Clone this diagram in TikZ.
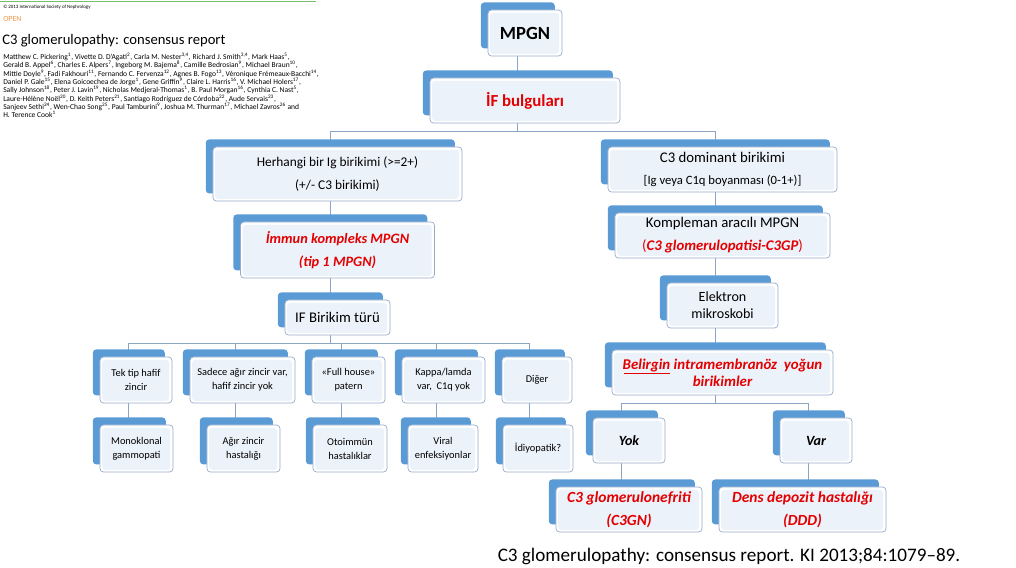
\documentclass[tikz,border=0pt]{standalone}
\usepackage{fontspec}
\setmainfont{Carlito}
\usetikzlibrary{backgrounds}

\definecolor{tabblue}{RGB}{91,155,213}
\definecolor{boxline}{RGB}{150,172,204}
\definecolor{boxfill}{RGB}{236,242,250}
\definecolor{linkcol}{RGB}{140,165,196}
\definecolor{txtred}{RGB}{228,0,0}
\definecolor{headgreen}{RGB}{120,190,110}
\definecolor{openorange}{RGB}{236,150,70}
\newcommand{\tabx}{-1.8mm}

\begin{document}
\begin{tikzpicture}[
  x=0.025cm, y=0.025cm,
  box/.style={rectangle, draw=boxline, line width=0.5pt, rounded corners=2.5pt, fill=white, align=center, inner sep=0pt, font=\fontsize{9.5}{16.5}\selectfont,
    preaction={fill=tabblue, transform canvas={shift={(-1.8mm,1.9mm)}}},
    path picture={\fill[boxfill] ([shift={(1.5pt,1.5pt)}]path picture bounding box.south west) rectangle ([shift={(-2pt,-2pt)}]path picture bounding box.north east);}},
  smallbox/.style={box, font=\fontsize{7.4}{10}\selectfont},
  redtxt/.style={text=txtred, font=\fontsize{10.5}{16.4}\selectfont\bfseries\itshape},
  conn/.style={draw=linkcol, line width=0.6pt}
]
\useasboundingbox (0,0) rectangle (1016,567);

% paper header
\draw[headgreen, line width=0.6pt] (0,566) -- (316,566);
\node[anchor=west, inner sep=0pt, font=\fontsize{3.5}{4}\selectfont] (society) at (3,560) {© 2013 International Society of Nephrology};
\node[anchor=west, inner sep=0pt, text=openorange, font=\fontsize{5.6}{6}\selectfont] (open) at (3,548) {OPEN};
\node[anchor=west, inner sep=0pt, font=\fontsize{10.4}{12}\selectfont] (title) at (2,526) {C3 glomerulopathy: consensus report};
\node[anchor=north west, align=left, inner sep=0pt, font=\fontsize{5.35}{5.9}\selectfont] (authors) at (3,514) {%
Matthew C. Pickering\textsuperscript{1}, Vivette D. D'Agati\textsuperscript{2}, Carla M. Nester\textsuperscript{3,4}, Richard J. Smith\textsuperscript{3,4}, Mark Haas\textsuperscript{5},\\
Gerald B. Appel\textsuperscript{6}, Charles E. Alpers\textsuperscript{7}, Ingeborg M. Bajema\textsuperscript{8}, Camille Bedrosian\textsuperscript{9}, Michael Braun\textsuperscript{10},\\
Mittie Doyle\textsuperscript{9}, Fadi Fakhouri\textsuperscript{11}, Fernando C. Fervenza\textsuperscript{12}, Agnes B. Fogo\textsuperscript{13}, Véronique Frémeaux-Bacchi\textsuperscript{14},\\
Daniel P. Gale\textsuperscript{15}, Elena Goicoechea de Jorge\textsuperscript{1}, Gene Griffin\textsuperscript{9}, Claire L. Harris\textsuperscript{16}, V. Michael Holers\textsuperscript{17},\\
Sally Johnson\textsuperscript{18}, Peter J. Lavin\textsuperscript{19}, Nicholas Medjeral-Thomas\textsuperscript{1}, B. Paul Morgan\textsuperscript{16}, Cynthia C. Nast\textsuperscript{5},\\
Laure-Hélène Noël\textsuperscript{20}, D. Keith Peters\textsuperscript{21}, Santiago Rodríguez de Córdoba\textsuperscript{22}, Aude Servais\textsuperscript{23},\\
Sanjeev Sethi\textsuperscript{24}, Wen-Chao Song\textsuperscript{25}, Paul Tamburini\textsuperscript{9}, Joshua M. Thurman\textsuperscript{17}, Michael Zavros\textsuperscript{26} and\\
H. Terence Cook\textsuperscript{1}};

% tree
\node[box, minimum width=1.85cm, minimum height=1.15cm, font=\fontsize{13.2}{16}\selectfont\bfseries] (mpgn) at (525,534) {MPGN};
\node[box, minimum width=4.75cm, minimum height=1.125cm, text=txtred, font=\fontsize{12}{14}\selectfont\bfseries] (ifb) at (525,466.5) {İF bulguları};

% left branch
\node[box, minimum width=6.225cm, minimum height=1.35cm] (herh) at (337.5,393) {Herhangi bir Ig birikimi (>=2+)\\(+/- C3 birikimi)};
\node[box, redtxt, minimum width=4.85cm, minimum height=1.4cm, font=\fontsize{10.2}{16.4}\selectfont\bfseries\itshape] (immun) at (337.5,317) {İmmun kompleks MPGN\\(tip 1 MPGN)};
\node[box, minimum width=2.625cm, minimum height=0.875cm, font=\fontsize{10.5}{12}\selectfont] (ifbt) at (337.5,249.5) {IF Birikim türü};

\node[smallbox, minimum width=1.8cm, minimum height=1.15cm] (tek) at (136,187) {Tek tip hafif\\zincir};
\node[smallbox, minimum width=2.625cm, minimum height=1.15cm] (sadece) at (242.5,187) {Sadece ağır zincir var,\\hafif zincir yok};
\node[smallbox, minimum width=1.825cm, minimum height=1.15cm] (full) at (348.5,187) {«Full house»\\patern};
\node[smallbox, minimum width=2.075cm, minimum height=1.15cm] (kappa) at (443.5,187) {Kappa/lamda\\var,\ \ C1q yok};
\node[smallbox, minimum width=1.75cm, minimum height=1.15cm] (diger) at (537,187) {Diğer};

\node[smallbox, minimum width=1.825cm, minimum height=1.175cm] (mono) at (136.5,118.5) {Monoklonal\\gammopati};
\node[smallbox, minimum width=1.825cm, minimum height=1.175cm] (agir) at (243.5,118.5) {Ağır zincir\\hastalığı};
\node[smallbox, minimum width=1.85cm, minimum height=1.175cm] (oto) at (350,118.5) {Otoimmün\\hastalıklar};
\node[smallbox, minimum width=1.75cm, minimum height=1.175cm] (viral) at (443,118.5) {Viral\\enfeksiyonlar};
\node[smallbox, minimum width=1.75cm, minimum height=1.175cm] (idio) at (538,118.5) {İdiyopatik?};

% right branch
\node[box, minimum width=5.725cm, minimum height=1.125cm, font=\fontsize{10.5}{15.5}\selectfont] (c3dom) at (722.5,397.5) {C3 dominant birikimi\\{\fontsize{9}{9}\selectfont [Ig veya C1q boyanması (0-1+)]}};
\node[box, minimum width=5.375cm, minimum height=1.125cm, font=\fontsize{10.5}{16.4}\selectfont] (komp) at (722.5,331.5) {Kompleman aracılı MPGN\\{\color{txtred}(\textbf{\textit{C3 glomerulopatisi-C3GP}})}};
\node[box, minimum width=2.775cm, minimum height=1.125cm, font=\fontsize{10}{12}\selectfont] (elek) at (722.5,261.5) {Elektron\\mikroskobi};
\node[box, redtxt, minimum width=5.525cm, minimum height=1.125cm, font=\fontsize{10.6}{12}\selectfont\bfseries\itshape] (belir) at (722.5,194.5) {\kern1.2pt\underline{\kern-1.2pt Belirgin\/} intramembranöz\ \ yoğun\\birikimler};
\node[box, minimum width=1.8cm, minimum height=1.125cm, font=\fontsize{10}{12}\selectfont\bfseries\itshape] (yok) at (629,126.5) {Yok};
\node[box, minimum width=1.8cm, minimum height=1.125cm, font=\fontsize{10}{12}\selectfont\bfseries\itshape] (var) at (816,126.5) {Var};
\node[box, redtxt, minimum width=3.65cm, minimum height=1.125cm, font=\fontsize{11}{16.4}\selectfont\bfseries\itshape] (c3gn) at (629,57.5) {C3 glomerulonefriti\\(C3GN)};
\node[box, redtxt, minimum width=4.175cm, minimum height=1.125cm, font=\fontsize{11}{16.4}\selectfont\bfseries\itshape] (ddd) at (802.5,57.5) {Dens depozit hastalığı\\(DDD)};

\node[font=\fontsize{13.6}{15}\selectfont] (cite) at (729,11) {C3 glomerulopathy: consensus report. KI 2013;84:1079–89.};

% connectors
\begin{scope}[on background layer]
\draw[conn] ([xshift=\tabx]mpgn.south) -- ([xshift=\tabx]ifb.north);
\draw[conn] ([xshift=\tabx]ifb.south) -- ++(0,-8) -| ([xshift=\tabx]herh.north);
\draw[conn] ([xshift=\tabx]ifb.south) -- ++(0,-8) -| ([xshift=\tabx]c3dom.north);
\draw[conn] ([xshift=\tabx]herh.south) -- ([xshift=\tabx]immun.north);
\draw[conn] ([xshift=\tabx]immun.south) -- ([xshift=\tabx]ifbt.north);
\foreach \n in {tek,sadece,full,kappa,diger}
  \draw[conn] ([xshift=\tabx]ifbt.south) -- ++(0,-8) -| ([xshift=\tabx]\n.north);
\foreach \a/\b in {tek/mono,sadece/agir,full/oto,kappa/viral,diger/idio}
  \draw[conn] ([xshift=\tabx]\a.south) -- ([xshift=\tabx]\a.south |- \b.north);
\draw[conn] ([xshift=\tabx]c3dom.south) -- ([xshift=\tabx]komp.north);
\draw[conn] ([xshift=\tabx]komp.south) -- ([xshift=\tabx]elek.north);
\draw[conn] ([xshift=\tabx]elek.south) -- ([xshift=\tabx]belir.north);
\draw[conn] ([xshift=\tabx]belir.south) -- ++(0,-8) -| ([xshift=\tabx]yok.north);
\draw[conn] ([xshift=\tabx]belir.south) -- ++(0,-8) -| ([xshift=\tabx]var.north);
\draw[conn] ([xshift=\tabx]yok.south) -- ([xshift=\tabx]yok.south |- c3gn.north);
\draw[conn] ([xshift=\tabx]var.south) -- ([xshift=\tabx]var.south |- ddd.north);
\end{scope}
\end{tikzpicture}
\end{document}
